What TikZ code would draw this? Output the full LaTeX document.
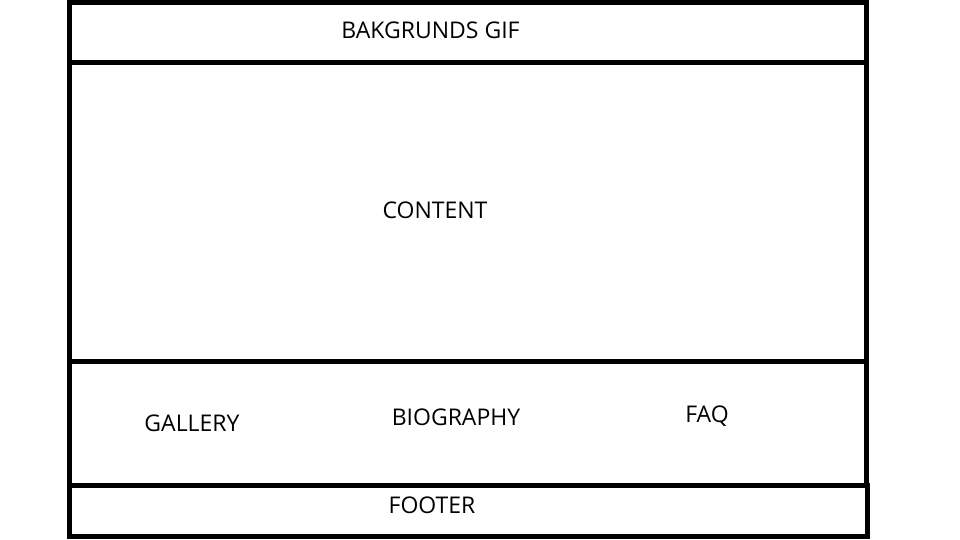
\documentclass[tikz,border=0pt]{standalone}
\usepackage{fontspec}
\setmainfont{Open Sans}

\begin{document}
\begin{tikzpicture}[x=1pt,y=-1pt,line width=5pt,
  lbl/.style={anchor=base,inner sep=0pt,font=\fontsize{23}{27}\selectfont}]

  \useasboundingbox (0,0) rectangle (960,540);

  % page frame with header and menu rows
  \draw (69.5,2.5) rectangle (866,485);
  \draw (69.5,62.5) -- (866,62.5);
  \draw (69.5,361.5) -- (866,361.5);

  % footer box
  \draw (69,485) rectangle (867.5,536);

  % labels
  \node[lbl] (gif) at (430.5,38.5) {BAKGRUNDS GIF};
  \node[lbl] (content) at (435,218) {CONTENT};
  \node[lbl] (gallery) at (192,431) {GALLERY};
  \node[lbl] (biography) at (456,425) {BIOGRAPHY};
  \node[lbl] (faq) at (707,422) {FAQ};
  \node[lbl] (footer) at (432,513) {FOOTER};

\end{tikzpicture}
\end{document}
